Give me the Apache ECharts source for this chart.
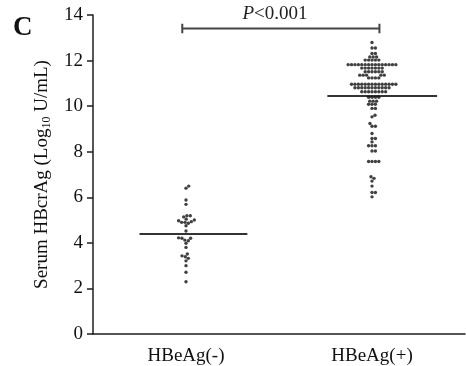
<!DOCTYPE html>
<html>
<head>
<meta charset="utf-8">
<script src="https://cdn.jsdelivr.net/npm/echarts@6/dist/echarts.min.js"></script>
<style>
html,body{margin:0;padding:0;background:#fff;}
#chart{width:466px;height:366px;}
</style>
</head>
<body>
<div id="chart"></div>
<script>
// ---- data ----
const categories = ['HBeAg(-)', 'HBeAg(+)'];
const yAxisTicks = { min: 0, max: 14, interval: 2 };
const negValues = [6.49, 6.40, 5.88, 5.69, 5.19, 5.14, 5.19, 5.04, 5.00, 4.90, 4.90, 4.86, 4.93, 4.97, 4.75,
  4.52, 4.22, 4.20, 4.20, 4.12, 4.09, 3.98, 3.80, 3.51, 3.43, 3.39, 3.32, 3.21, 3.00, 2.71, 2.29];
const posValues = [
  12.79,
  12.55, 12.55,
  12.31, 12.31,
  12.16, 12.16, 12.16,
  12.02, 12.02, 12.02, 12.02, 12.02,
  11.82, 11.82, 11.82, 11.82, 11.82, 11.82, 11.82, 11.82, 11.82, 11.82, 11.82, 11.82, 11.82, 11.82, 11.82,
  11.67, 11.67, 11.67, 11.67, 11.67, 11.67, 11.67,
  11.51, 11.51, 11.51, 11.51, 11.51, 11.51,
  11.36, 11.36, 11.36, 11.36, 11.36,
  11.24, 11.24, 11.24, 11.24,
  10.96, 10.96, 10.96, 10.96, 10.96, 10.96, 10.96, 10.96, 10.96, 10.96, 10.96, 10.96, 10.96, 10.96,
  10.81, 10.81, 10.81, 10.81, 10.81, 10.81, 10.81, 10.81, 10.81, 10.81, 10.81,
  10.63, 10.63, 10.63, 10.63, 10.63, 10.63, 10.63, 10.63,
  10.39, 10.39, 10.39, 10.39,
  10.22, 10.22, 10.22,
  10.08, 10.08, 10.08,
  9.90, 9.90,
  9.60, 9.53,
  9.24, 9.12, 9.12,
  8.80,
  8.58, 8.58,
  8.43,
  8.26, 8.26, 8.26,
  8.03, 8.03,
  7.57, 7.57, 7.57, 7.57,
  6.90, 6.83, 6.71,
  6.49,
  6.21, 6.21,
  6.02
];
const centerLines = [4.39, 10.45];                 // horizontal line value per group
const centerLineSpan = [[0.25, 0.83], [1.26, 1.85]]; // extent of each line (group units)
const sigText = 'P<0.001';
const sigBracket = [0.48, 1.54, 13.41];            // from, to (group units), level

// ---- layout constants ----
const GRID = { left: 93, right: 1, top: 15, bottom: 32 };
const W = 466, H = 366;
const pxPerX = (W - GRID.left - GRID.right) / 2;
const pxPerY = (H - GRID.top - GRID.bottom) / (yAxisTicks.max - yAxisTicks.min);
const DOT = 3.4;

function swarm(values, center) {
  const sorted = values.map(v => v).sort((a, b) => a - b);
  const placed = [];
  const out = [];
  for (const v of sorted) {
    const y = v * pxPerY;
    const cands = [0];
    for (const q of placed) {
      const dy = Math.abs(q.y - y);
      if (dy < DOT) {
        const dx = Math.sqrt(DOT * DOT - dy * dy) + 0.01;
        cands.push(q.x + dx, q.x - dx);
      }
    }
    cands.sort((a, b) => Math.abs(a) - Math.abs(b));
    const x = cands.find(c => placed.every(q => (q.x - c) ** 2 + (q.y - y) ** 2 >= DOT * DOT - 0.05));
    placed.push({ x, y });
    out.push([center + x / pxPerX, v]);
  }
  return out;
}

const tickH = 0.21;
const serif = 'Liberation Serif';
const ink = '#1e1e1e';

const lineBase = { type: 'line', xAxisIndex: 1, symbol: 'none', silent: true, animation: false, z: 3 };

const option = {
  animation: false,
  grid: GRID,
  graphic: [
    { type: 'text', left: 13, top: 15, style: { text: 'C', font: 'bold 27px "Liberation Serif"', fill: '#111' } },
    { type: 'text', x: 275, y: 14, style: {
        text: '{i|P}{n|' + sigText.slice(1) + '}', align: 'center', verticalAlign: 'middle',
        rich: { i: { fontFamily: serif, fontStyle: 'italic', fontSize: 19, fill: '#222' },
                n: { fontFamily: serif, fontSize: 19, fill: '#222' } } } }
  ],
  xAxis: [
    { type: 'category', data: categories, boundaryGap: true,
      axisLine: { lineStyle: { color: ink, width: 1.5 } },
      axisTick: { alignWithLabel: true, length: 5, lineStyle: { color: ink, width: 1.5 } },
      axisLabel: { fontFamily: serif, fontSize: 19, color: '#111', margin: 13 } },
    { type: 'value', min: 0, max: 2, show: false }
  ],
  yAxis: {
    type: 'value', min: yAxisTicks.min, max: yAxisTicks.max, interval: yAxisTicks.interval,
    axisLine: { show: true, lineStyle: { color: ink, width: 1.5 } },
    axisTick: { show: true, length: 6, lineStyle: { color: ink, width: 1.5 } },
    splitLine: { show: false },
    axisLabel: { fontFamily: serif, fontSize: 19, color: '#111', margin: 10 },
    name: '{a|Serum HBcrAg (Log}{s|10}{a| U/mL)}',
    nameLocation: 'middle', nameGap: 40,
    nameTextStyle: {
      rich: {
        a: { fontFamily: serif, fontSize: 19, color: '#111', lineHeight: 22, verticalAlign: 'middle' },
        s: { fontFamily: serif, fontSize: 12, color: '#111', lineHeight: 22, verticalAlign: 'bottom', padding: [8, 0, 0, 0] }
      }
    }
  },
  series: [
    { type: 'scatter', xAxisIndex: 1, symbolSize: 3.4, itemStyle: { color: '#111' },
      data: swarm(negValues, 0.5), z: 4 },
    { type: 'scatter', xAxisIndex: 1, symbolSize: 3.4, itemStyle: { color: '#111' },
      data: swarm(posValues, 1.5), z: 4 },
    Object.assign({}, lineBase, { lineStyle: { color: '#333', width: 2 },
      data: [[centerLineSpan[0][0], centerLines[0]], [centerLineSpan[0][1], centerLines[0]]] }),
    Object.assign({}, lineBase, { lineStyle: { color: '#333', width: 2 },
      data: [[centerLineSpan[1][0], centerLines[1]], [centerLineSpan[1][1], centerLines[1]]] }),
    Object.assign({}, lineBase, { lineStyle: { color: '#444', width: 2 },
      data: [
        [sigBracket[0], sigBracket[2] + tickH], [sigBracket[0], sigBracket[2] - tickH], [sigBracket[0], sigBracket[2]],
        [sigBracket[1], sigBracket[2]], [sigBracket[1], sigBracket[2] + tickH], [sigBracket[1], sigBracket[2] - tickH]
      ] })
  ]
};

const chart = echarts.init(document.getElementById('chart'), null, { renderer: 'canvas' });
chart.setOption(option);
</script>
</body>
</html>
